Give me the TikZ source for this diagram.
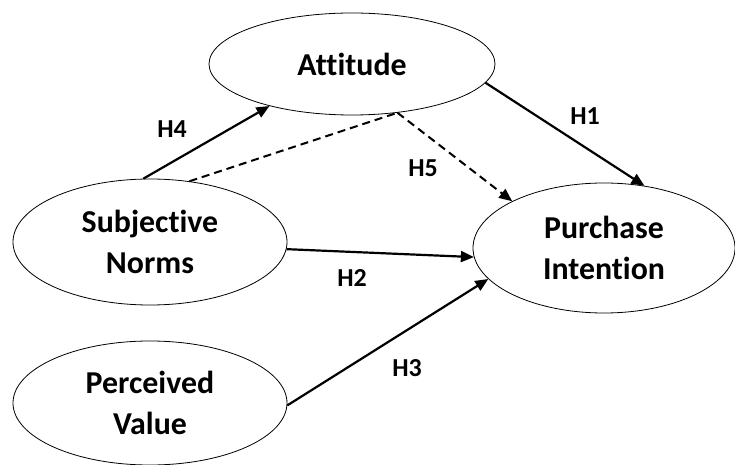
\documentclass[tikz,border=0pt]{standalone}
\usepackage{fontspec}
\setmainfont{Carlito}[RawFeature={-liga;-clig}]
\usetikzlibrary{shapes.geometric,arrows.meta}

\begin{document}
\begin{tikzpicture}[x=1bp,y=-1bp,
  construct/.style={draw, ellipse, line width=0.8bp, minimum width=274bp, minimum height=126bp,
    inner sep=0pt, align=center, font=\fontsize{32}{42}\selectfont\bfseries},
  link/.style={line width=2.2bp, -{Triangle[length=13bp,width=11bp]}},
  mediation/.style={line width=2bp, dash pattern=on 8bp off 5bp},
  hyp/.style={font=\fontsize{26}{26}\selectfont\bfseries}]
\fill[white] (0,0) rectangle (735,465);
\useasboundingbox (0,0) rectangle (735,465);
% constructs
\node[construct, minimum width=286bp, minimum height=102bp] (att) at (352,64) {Attitude};
\node[construct] (sn) at (150,242) {Subjective\\Norms};
\node[construct, minimum height=124bp] (pv) at (150,403) {Perceived\\Value};
\node[construct, minimum width=262bp, minimum height=130bp] (pi) at (604,248) {Purchase\\Intention};
\coordinate (med) at (att.-47.5);
% paths
\draw[link] (sn.96) -- (att.207);
\draw[link] (att.-8.4) -- (pi.57);
\draw[link] (sn.-3) -- (pi.184);
\draw[link] (pv.-1) -- (pi.195);
\draw[mediation] (sn.57.6) -- (med);
\draw[mediation, -{Triangle[length=13bp,width=11bp]}] (med) -- (pi.153.7);
% hypotheses
\node[hyp] (h4) at (172,129) {H4};
\node[hyp] (h1) at (585,116) {H1};
\node[hyp] (h5) at (423,168) {H5};
\node[hyp] (h2) at (352,278) {H2};
\node[hyp] (h3) at (407,368) {H3};
\end{tikzpicture}
\end{document}
